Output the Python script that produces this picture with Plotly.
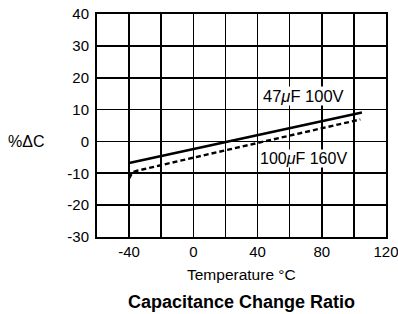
import plotly.graph_objects as go

# Data
temp_47 = [-40, 105]
cap_47 = [-6.8, 9.1]

temp_100 = [-40, -38.5, -37, -35, 0, 40, 80, 104]
cap_100 = [-11.6, -10.3, -9.5, -9.2, -5.1, -0.5, 4.1, 6.9]

x_tickvals = [-60, -40, -20, 0, 20, 40, 60, 80, 100, 120]
x_ticktext = ["", "-40", "", "0", "", "40", "", "80", "", "120"]
y_tickvals = [-30, -20, -10, 0, 10, 20, 30, 40]
y_ticktext = ["-30", "-20", "-10", "0", "10", "20", "30", "40"]

label_47 = "47<i>μ</i>F 100V"
label_100 = "100<i>μ</i>F 160V"

FONT = "Arial, Liberation Sans, Helvetica, sans-serif"

fig = go.Figure()
fig.add_trace(go.Scatter(x=temp_47, y=cap_47, mode="lines",
                         line=dict(color="black", width=2.6), showlegend=False))
fig.add_trace(go.Scatter(x=temp_100, y=cap_100, mode="lines",
                         line=dict(color="black", width=2.4, dash="5px,3px"),
                         showlegend=False))

axis_common = dict(showgrid=True, gridcolor="black", gridwidth=1.6,
                   showline=True, linecolor="black", linewidth=2, mirror=True,
                   zeroline=False, ticks="", ticklen=0, automargin=False,
                   ticklabeloverflow="allow", tickfont=dict(size=15))

fig.update_layout(
    width=398, height=314,
    margin=dict(l=97, r=12, t=13.5, b=77, autoexpand=False),
    paper_bgcolor="white", plot_bgcolor="white",
    font=dict(family=FONT, color="black", size=14),
    xaxis=dict(range=[-60, 120], tickvals=x_tickvals, ticktext=x_ticktext,
               **axis_common),
    yaxis=dict(range=[-30, 40], tickvals=y_tickvals, ticktext=y_ticktext,
               ticklabelstandoff=3, **axis_common),
    hovermode=False,
)

fig.add_annotation(text="%ΔC", xref="paper", yref="y", x=-0.245, y=0,
                   xanchor="center", yanchor="middle", showarrow=False,
                   font=dict(size=16))
fig.add_annotation(text="Temperature °C", xref="paper", yref="paper",
                   x=0.5, y=-0.17, xanchor="center", yanchor="middle",
                   showarrow=False, font=dict(size=15.5))
fig.add_annotation(text="<b>Capacitance Change Ratio</b>", xref="paper", yref="paper",
                   x=0.5, y=-0.291, xanchor="center", yanchor="middle",
                   showarrow=False, font=dict(size=18))
fig.add_annotation(text=label_47, xref="x", yref="y", x=68.75, y=14.4,
                   xanchor="center", yanchor="middle", showarrow=False,
                   bgcolor="white", borderpad=0, font=dict(size=16.5))
fig.add_annotation(text=label_100, xref="x", yref="y", x=68.75, y=-5.25,
                   xanchor="center", yanchor="middle", showarrow=False,
                   bgcolor="white", borderpad=0, font=dict(size=16))

# Page without default body margin so the 398x314 figure fills the window
page_css = ("document.documentElement.style.margin='0';"
            "document.body.style.margin='0';"
            "document.body.style.overflow='hidden';")

fig.write_html("out.html", post_script=page_css,
               config={"displayModeBar": False, "staticPlot": True})
